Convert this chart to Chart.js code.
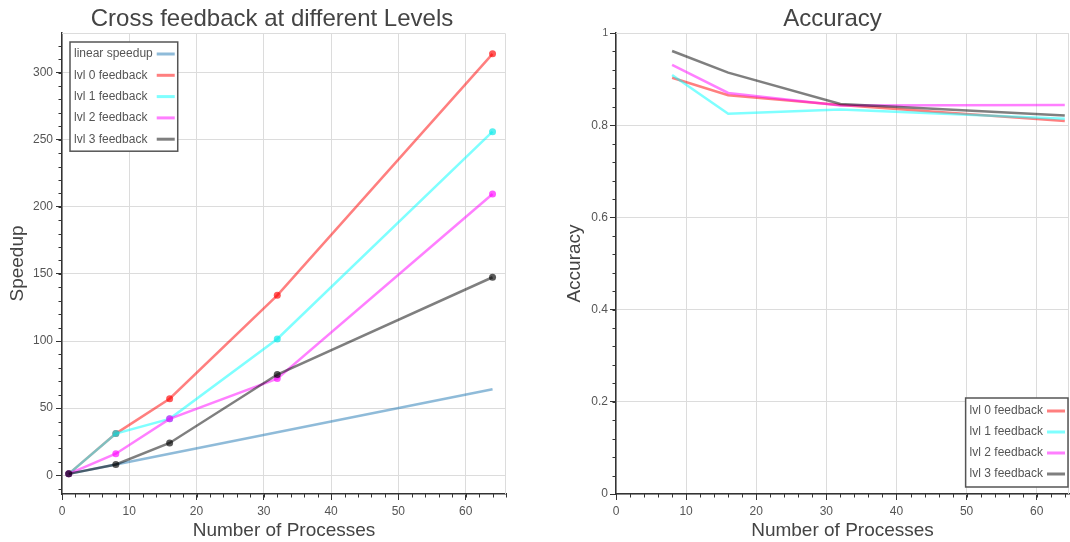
<!DOCTYPE html>
<html>
<head>
<meta charset="utf-8">
<title>Cross feedback</title>
<script src="https://cdn.jsdelivr.net/npm/chart.js@4.4.1/dist/chart.umd.min.js"></script>
<style>
    html, body { margin: 0; padding: 0; background: #fff; overflow: hidden; }
    #wrap { position: relative; width: 1070px; height: 542px; }
    .box { position: absolute; top: 0; height: 542px; }
    #leftBox { left: 0; width: 540px; }
    #rightBox { left: 540px; width: 530px; }
</style>
</head>
<body>
<div id="wrap">
    <div class="box" id="leftBox"><canvas id="speedupChart"></canvas></div>
    <div class="box" id="rightBox"><canvas id="accuracyChart"></canvas></div>
</div>
<script>
// Values
const speedupProcs = [1, 8, 16, 32, 64];
const linearSpeedup = [1, 8, 16, 32, 64];
const lvl0Speedup = [1, 31, 57, 134, 314];
const lvl1Speedup = [1, 31, 42, 101.5, 256];
const lvl2Speedup = [1, 16, 42, 72, 209.5];
const lvl3Speedup = [1, 8, 24, 75, 147.5];

const accuracyProcs = [8, 16, 32, 64];
const lvl0Accuracy = [0.903, 0.865, 0.844, 0.809];
const lvl1Accuracy = [0.909, 0.825, 0.834, 0.814];
const lvl2Accuracy = [0.931, 0.870, 0.843, 0.844];
const lvl3Accuracy = [0.961, 0.914, 0.846, 0.821];

const speedupLabels = ['linear speedup', 'lvl 0 feedback', 'lvl 1 feedback', 'lvl 2 feedback', 'lvl 3 feedback'];
const accuracyLabels = ['lvl 0 feedback', 'lvl 1 feedback', 'lvl 2 feedback', 'lvl 3 feedback'];

const lineColors = {
    linear: 'rgba(31, 119, 180, 0.5)',
    lvl0: 'rgba(255, 0, 0, 0.5)',
    lvl1: 'rgba(0, 255, 255, 0.5)',
    lvl2: 'rgba(255, 0, 255, 0.5)',
    lvl3: 'rgba(0, 0, 0, 0.5)'
};
const dotColors = {
    lvl0: 'rgba(255, 0, 0, 0.65)',
    lvl1: 'rgba(0, 230, 230, 0.65)',
    lvl2: 'rgba(255, 0, 255, 0.65)',
    lvl3: 'rgba(0, 0, 0, 0.65)'
};

Chart.defaults.font.family = '"Liberation Sans", Arial, sans-serif';
Chart.defaults.color = '#555';

const toPoints = (xs, ys) => xs.map((x, i) => ({ x: x, y: ys[i] }));

// Title centred at a given spot (matplotlib puts it over the axes)
const plotTitle = {
    id: 'plotTitle',
    afterDraw(chart, args, opts) {
        const ctx = chart.ctx;
        ctx.save();
        ctx.font = '24px "Liberation Sans", Arial, sans-serif';
        ctx.fillStyle = '#444';
        ctx.textAlign = 'center';
        ctx.textBaseline = 'alphabetic';
        ctx.fillText(opts.text, opts.x, opts.y);
        ctx.restore();
    }
};

// Light frame on top/right plus minor tick marks
const axesExtras = {
    id: 'axesExtras',
    beforeDatasetsDraw(chart, args, opts) {
        const ctx = chart.ctx;
        const a = chart.chartArea;
        const xs = chart.scales.x;
        const ys = chart.scales.y;
        ctx.save();
        ctx.strokeStyle = '#dcdcdc';
        ctx.lineWidth = 1;
        ctx.beginPath();
        ctx.moveTo(a.left, a.top + 0.5);
        ctx.lineTo(a.right - 0.5, a.top + 0.5);
        ctx.lineTo(a.right - 0.5, a.bottom);
        ctx.stroke();

        ctx.strokeStyle = '#333';
        ctx.beginPath();
        for (let i = Math.ceil(xs.min / opts.xMinor); i * opts.xMinor <= xs.max + 1e-9; i++) {
            const px = Math.round(xs.getPixelForValue(i * opts.xMinor)) + 0.5;
            ctx.moveTo(px, a.bottom);
            ctx.lineTo(px, a.bottom + opts.len);
        }
        for (let i = Math.ceil(ys.min / opts.yMinor); i * opts.yMinor <= ys.max + 1e-9; i++) {
            const py = Math.round(ys.getPixelForValue(i * opts.yMinor)) + 0.5;
            ctx.moveTo(a.left, py);
            ctx.lineTo(a.left - opts.len, py);
        }
        ctx.stroke();
        ctx.restore();
    }
};

// Framed legend inside the plot, label first then the line sample
const boxLegend = {
    id: 'boxLegend',
    afterDraw(chart, args, opts) {
        const ctx = chart.ctx;
        const a = chart.chartArea;
        const items = chart.data.datasets;
        ctx.save();
        ctx.font = '12px "Liberation Sans", Arial, sans-serif';
        const textW = Math.max(...items.map(d => ctx.measureText(d.label).width));
        const w = 4 + textW + 4 + 18 + 3;
        const h = opts.rowGap * (items.length - 1) + 2 * opts.edge;
        const left = opts.corner === 'topleft' ? a.left + opts.dx : a.right - opts.dx - w;
        const top = opts.corner === 'topleft' ? a.top + opts.dy : a.bottom - opts.dy - h;

        ctx.fillStyle = '#fff';
        ctx.fillRect(left, top, w, h);
        ctx.strokeStyle = '#555';
        ctx.lineWidth = 1.5;
        ctx.strokeRect(left, top, w, h);

        items.forEach((d, i) => {
            const y = top + opts.edge + i * opts.rowGap;
            ctx.fillStyle = '#555';
            ctx.textAlign = 'left';
            ctx.textBaseline = 'middle';
            ctx.fillText(d.label, left + 4, y);
            ctx.strokeStyle = d.borderColor;
            ctx.lineWidth = 3;
            ctx.beginPath();
            ctx.moveTo(left + w - 21, y);
            ctx.lineTo(left + w - 3, y);
            ctx.stroke();
        });
        ctx.restore();
    }
};

function axisX(max) {
    return {
        type: 'linear',
        min: 0,
        max: max,
        afterFit: s => { s.height = 48; },
        ticks: { stepSize: 10, includeBounds: false, color: '#555', font: { size: 12 }, padding: 4, maxRotation: 0 },
        grid: { color: '#dcdcdc', lineWidth: 1, tickLength: 6, tickColor: '#333', tickWidth: 1 },
        border: { color: '#333', width: 1.5 },
        title: { display: true, text: 'Number of Processes', color: '#444', font: { size: 19 }, padding: 0 }
    };
}

function lineSet(label, xs, ys, color, dot, order) {
    return {
        label: label,
        data: toPoints(xs, ys),
        borderColor: color,
        backgroundColor: color,
        borderWidth: 2.5,
        tension: 0,
        pointRadius: dot ? 3.5 : 0,
        pointBackgroundColor: dot || color,
        pointBorderWidth: 0,
        pointHoverRadius: 0,
        order: order
    };
}

// Speedup chart
new Chart(document.getElementById('speedupChart'), {
    type: 'line',
    data: {
        datasets: [
            lineSet(speedupLabels[0], speedupProcs, linearSpeedup, lineColors.linear, null, 4),
            lineSet(speedupLabels[1], speedupProcs, lvl0Speedup, lineColors.lvl0, dotColors.lvl0, 3),
            lineSet(speedupLabels[2], speedupProcs, lvl1Speedup, lineColors.lvl1, dotColors.lvl1, 2),
            lineSet(speedupLabels[3], speedupProcs, lvl2Speedup, lineColors.lvl2, dotColors.lvl2, 1),
            lineSet(speedupLabels[4], speedupProcs, lvl3Speedup, lineColors.lvl3, dotColors.lvl3, 0)
        ]
    },
    options: {
        responsive: true,
        maintainAspectRatio: false,
        animation: false,
        events: [],
        layout: { padding: { top: 33, right: 34, left: 0, bottom: 0 } },
        scales: {
            x: axisX(66),
            y: {
                type: 'linear',
                min: -14,
                max: 329.5,
                afterFit: s => { s.width = 62; },
                ticks: { stepSize: 50, includeBounds: false, color: '#555', font: { size: 12 }, padding: 3 },
                grid: { color: '#dcdcdc', lineWidth: 1, tickLength: 6, tickColor: '#333', tickWidth: 1 },
                border: { color: '#333', width: 1.5 },
                title: { display: true, text: 'Speedup', color: '#444', font: { size: 19 }, padding: { top: 6, bottom: 0 } }
            }
        },
        plugins: {
            legend: { display: false },
            tooltip: { enabled: false },
            plotTitle: { text: 'Cross feedback at different Levels', x: 272, y: 26 },
            axesExtras: { xMinor: 2, yMinor: 10, len: 3.5 },
            boxLegend: { corner: 'topleft', dx: 8, dy: 9, edge: 12, rowGap: 21.3 }
        }
    },
    plugins: [plotTitle, axesExtras, boxLegend]
});

// Accuracy chart
new Chart(document.getElementById('accuracyChart'), {
    type: 'line',
    data: {
        datasets: [
            lineSet(accuracyLabels[0], accuracyProcs, lvl0Accuracy, lineColors.lvl0, null, 3),
            lineSet(accuracyLabels[1], accuracyProcs, lvl1Accuracy, lineColors.lvl1, null, 2),
            lineSet(accuracyLabels[2], accuracyProcs, lvl2Accuracy, lineColors.lvl2, null, 1),
            lineSet(accuracyLabels[3], accuracyProcs, lvl3Accuracy, lineColors.lvl3, null, 0)
        ]
    },
    options: {
        responsive: true,
        maintainAspectRatio: false,
        animation: false,
        events: [],
        layout: { padding: { top: 33, right: 1, left: 0, bottom: 0 } },
        scales: {
            x: axisX(64.6),
            y: {
                type: 'linear',
                min: 0,
                max: 1,
                afterFit: s => { s.width = 76; },
                ticks: {
                    stepSize: 0.2,
                    color: '#555',
                    padding: 2,
                    font: ctx => ({ size: ctx.tick && ctx.tick.value === 1 ? 10 : 12 }),
                    callback: v => String(Math.round(v * 10) / 10)
                },
                grid: { color: '#dcdcdc', lineWidth: 1, tickLength: 6, tickColor: '#333', tickWidth: 1 },
                border: { color: '#333', width: 1.5 },
                title: { display: true, text: 'Accuracy', color: '#444', font: { size: 19 }, padding: { top: 23.5, bottom: 0 } }
            }
        },
        plugins: {
            legend: { display: false },
            tooltip: { enabled: false },
            plotTitle: { text: 'Accuracy', x: 292.5, y: 26 },
            axesExtras: { xMinor: 2, yMinor: 0.04, len: 3.5 },
            boxLegend: { corner: 'bottomright', dx: 1, dy: 7, edge: 13, rowGap: 21 }
        }
    },
    plugins: [plotTitle, axesExtras, boxLegend]
});
</script>
</body>
</html>
